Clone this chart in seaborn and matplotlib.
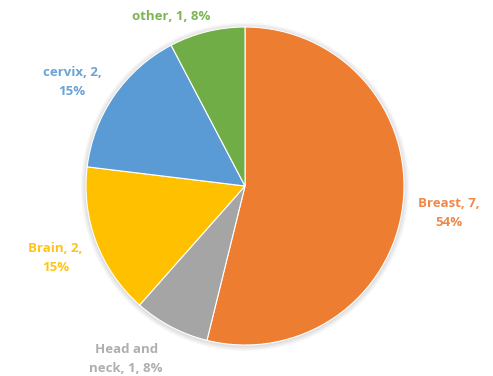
import matplotlib
matplotlib.use("Agg")
import matplotlib.pyplot as plt
import seaborn as sns
from matplotlib.patches import Circle

categories = ["Breast", "Head and\nneck", "Brain", "cervix", "other"]
counts = [7, 1, 2, 2, 1]
colors = ["#ED7D31", "#A5A5A5", "#FFC000", "#5B9BD5", "#70AD47"]
label_colors = ["#F0884A", "#AFAFAF", "#FFC31A", "#6AA3D8", "#7DB456"]
# label anchor points (data units, pie radius = 1)
label_pos = [(1.28, -0.17), (-0.748, -1.088), (-1.192, -0.453), (-1.088, 0.654), (-0.465, 1.069)]

sns.set_theme(style="white")
plt.rcParams["font.family"] = ["Open Sans", "DejaVu Sans"]

fig = plt.figure(figsize=(4.93, 3.76), dpi=100)
cx, cy, r = 245, 186, 159
W, H = 493, 376
ax = fig.add_axes([(cx - r) / W, (H - cy - r) / H, 2 * r / W, 2 * r / H])
ax.set_xlim(-1, 1)
ax.set_ylim(-1, 1)
ax.set_aspect("equal")
ax.axis("off")

# soft drop shadow
for i, a in enumerate([0.03, 0.03, 0.03, 0.03]):
    ax.add_patch(Circle((0.0, -0.005), 1.0 + 0.008 * (i + 1), color="black", alpha=a,
                        lw=0, zorder=0, clip_on=False))

ax.pie(counts, colors=colors, startangle=90, counterclock=False, radius=1.0,
       wedgeprops=dict(edgecolor="white", linewidth=0.8, zorder=1))
ax.set_xlim(-1, 1)
ax.set_ylim(-1, 1)

total = sum(counts)
for name, v, c, (x, y) in zip(categories, counts, label_colors, label_pos):
    pct = round(100 * v / total)
    if name == "Head and\nneck":
        txt = f"Head and\nneck, {v}, {pct}%"
    elif name == "other":
        txt = f"{name}, {v}, {pct}%"
    else:
        txt = f"{name}, {v},\n{pct}%"
    ax.text(x, y, txt, color=c, fontsize=9.5, fontweight="bold", ha="center", va="center",
            linespacing=1.6, clip_on=False)

fig.savefig("out.png", dpi=100, facecolor="white")
